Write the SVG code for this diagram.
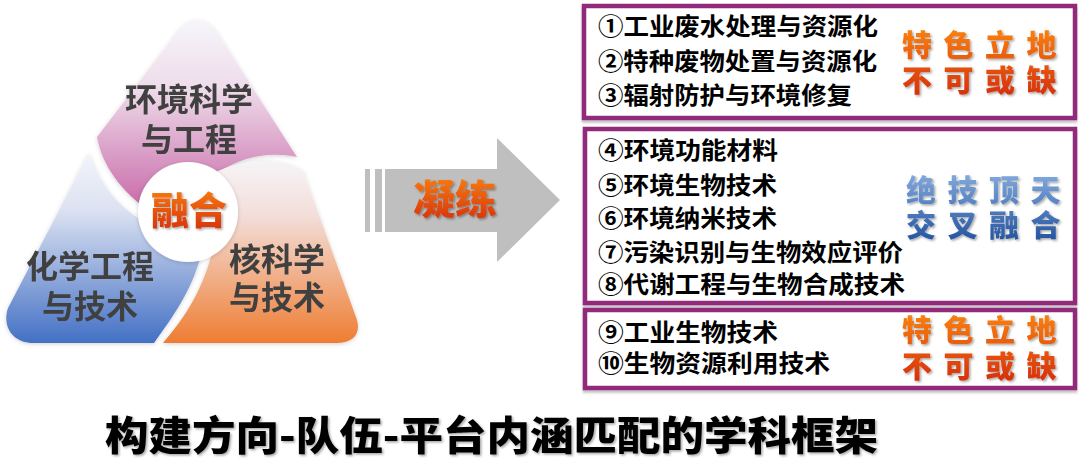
<svg xmlns="http://www.w3.org/2000/svg" width="1080" height="464" viewBox="0 0 1080 464">
<defs>
<style>
.lbl{font-family:"Noto Sans CJK SC","Noto Sans",sans-serif;font-weight:bold;font-size:32px;fill:#404040;text-anchor:middle}
.item{font-family:"Noto Sans CJK SC","Noto Sans",sans-serif;font-weight:bold;font-size:24px;fill:#000}
.slogan{font-family:"Noto Sans CJK SC",sans-serif;font-weight:900;font-size:30px}
.sl4{letter-spacing:11.5px}
.box{fill:#fff;stroke:#922A7B;stroke-width:4.5}
.arrow{fill:#BFBFBF}
</style>
<linearGradient id="gPink" x1="0" y1="0" x2="0" y2="1">
<stop offset="0" stop-color="#F6F5FA"/><stop offset="0.35" stop-color="#EEDCEA"/><stop offset="1" stop-color="#C766A7"/>
</linearGradient>
<linearGradient id="gBlue" x1="0" y1="0" x2="0" y2="1">
<stop offset="0" stop-color="#F3F4FA"/><stop offset="0.3" stop-color="#DCE2F2"/><stop offset="1" stop-color="#4370C4"/>
</linearGradient>
<linearGradient id="gOrange" x1="0" y1="0" x2="0" y2="1">
<stop offset="0" stop-color="#F6F4F6"/><stop offset="0.3" stop-color="#F3DEDA"/><stop offset="1" stop-color="#EE7D32"/>
</linearGradient>
<linearGradient id="gRed" x1="0" y1="0" x2="0" y2="1">
<stop offset="0" stop-color="#FF8A10"/><stop offset="1" stop-color="#D42A0A"/>
</linearGradient>
<linearGradient id="gBlueTxt" x1="0" y1="0" x2="0" y2="1">
<stop offset="0" stop-color="#8DB3E6"/><stop offset="1" stop-color="#1E4F9C"/>
</linearGradient>
<filter id="shPiece" x="-10%" y="-10%" width="120%" height="120%">
<feDropShadow dx="0" dy="1" stdDeviation="2" flood-color="#000" flood-opacity="0.18"/>
</filter>
<filter id="shTxt" x="-10%" y="-20%" width="120%" height="150%">
<feDropShadow dx="1.5" dy="1.5" stdDeviation="1" flood-color="#000" flood-opacity="0.35"/>
</filter>
<filter id="shBox" x="-5%" y="-5%" width="110%" height="115%">
<feDropShadow dx="0" dy="2.5" stdDeviation="1" flood-color="#000" flood-opacity="0.25"/>
</filter>
</defs>
<rect width="1080" height="464" fill="#fff"/>

<g id="triangle">
<g id="piece-env" filter="url(#shPiece)">
<path d="M97,137 L176,34 C188,16 206,16 218,34 L297,157 C272,152 245,154 212,176 L150,212 C120,190 102,165 97,137 Z" fill="url(#gPink)"/>
<text class="lbl" x="189" y="111">环境科学</text>
<text class="lbl" x="189" y="151">与工程</text>
</g>
<g id="piece-chem" filter="url(#shPiece)">
<path d="M89,153 C100,185 118,208 150,225 L200,258 C192,290 172,318 154,343 L34,343 C12,343 2,326 8,308 L89,153 Z" fill="url(#gBlue)"/>
<text class="lbl" x="90" y="278">化学工程</text>
<text class="lbl" x="90" y="318">与技术</text>
</g>
<g id="piece-nuc" filter="url(#shPiece)">
<path d="M200,180 C238,158 276,155 303,171 L356,317 C362,333 354,343 336,343 L163,343 C188,314 206,284 215,240 Z" fill="url(#gOrange)"/>
<text class="lbl" x="277" y="271">核科学</text>
<text class="lbl" x="277" y="309">与技术</text>
</g>
<g id="center">
<circle cx="188" cy="212" r="50" fill="#fff" filter="url(#shPiece)"/>
<text x="189" y="224" class="slogan" text-anchor="middle" fill="url(#gRed)" filter="url(#shTxt)" style="font-size:38px">融合</text>
</g>
</g>

<g id="connectors">
<g id="arrow">
<rect class="arrow" x="365" y="169" width="5" height="63"/>
<rect class="arrow" x="375" y="169" width="7" height="63"/>
<path class="arrow" d="M385,169 L497,169 L497,138 L560,200 L497,262 L497,232 L385,232 Z"/>
<text x="413" y="214" class="slogan" style="font-size:40px" fill="url(#gRed)" filter="url(#shTxt)" textLength="84" lengthAdjust="spacingAndGlyphs">凝练</text>
</g>
</g>

<g id="box1">
<rect class="box" x="584" y="6" width="491" height="112" filter="url(#shBox)"/>
<text class="item" x="598" y="35" textLength="280" lengthAdjust="spacingAndGlyphs">①工业废水处理与资源化</text>
<text class="item" x="598" y="70" textLength="279" lengthAdjust="spacingAndGlyphs">②特种废物处置与资源化</text>
<text class="item" x="598" y="104" textLength="254" lengthAdjust="spacingAndGlyphs">③辐射防护与环境修复</text>
<text class="slogan sl4" fill="url(#gRed)" filter="url(#shTxt)"><tspan x="902" y="56">特色立地</tspan><tspan x="902" y="91">不可或缺</tspan></text>
</g>

<g id="box2">
<rect class="box" x="585" y="129" width="490" height="174" filter="url(#shBox)"/>
<text class="item" x="598" y="159" textLength="180" lengthAdjust="spacingAndGlyphs">④环境功能材料</text>
<text class="item" x="598" y="194" textLength="179" lengthAdjust="spacingAndGlyphs">⑤环境生物技术</text>
<text class="item" x="598" y="227" textLength="179" lengthAdjust="spacingAndGlyphs">⑥环境纳米技术</text>
<text class="item" x="598" y="261" textLength="305" lengthAdjust="spacingAndGlyphs">⑦污染识别与生物效应评价</text>
<text class="item" x="598" y="293" textLength="307" lengthAdjust="spacingAndGlyphs">⑧代谢工程与生物合成技术</text>
<text class="slogan sl4" fill="url(#gBlueTxt)" filter="url(#shTxt)"><tspan x="906" y="201">绝技顶天</tspan><tspan x="906" y="236">交叉融合</tspan></text>
</g>

<g id="box3">
<rect class="box" x="585" y="310" width="490" height="78" filter="url(#shBox)"/>
<text class="item" x="598" y="341" textLength="180" lengthAdjust="spacingAndGlyphs">⑨工业生物技术</text>
<text class="item" x="598" y="372" textLength="232" lengthAdjust="spacingAndGlyphs">⑩生物资源利用技术</text>
<text class="slogan sl4" fill="url(#gRed)" filter="url(#shTxt)"><tspan x="902" y="341">特色立地</tspan><tspan x="902" y="377">不可或缺</tspan></text>
</g>

<g id="title">
<text x="105" y="450" class="slogan" style="font-size:40px" fill="#000" filter="url(#shTxt)" textLength="773" lengthAdjust="spacingAndGlyphs">构建方向-队伍-平台内涵匹配的学科框架</text>
</g>
</svg>
